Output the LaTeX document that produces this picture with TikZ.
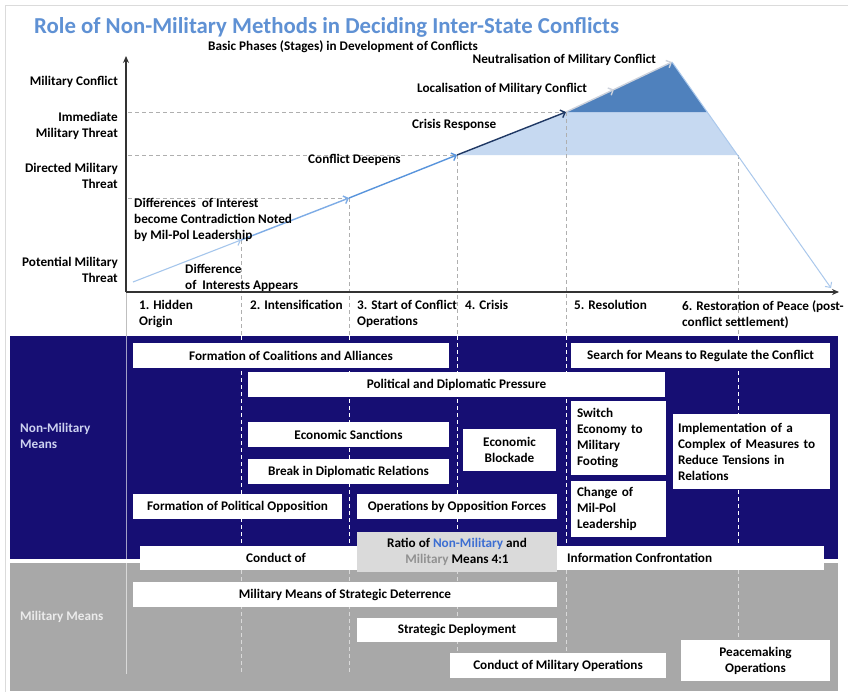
\documentclass[tikz,border=0pt]{standalone}
\usepackage{fontspec}
\setmainfont{Carlito}
\usetikzlibrary{arrows.meta}
\definecolor{navy}{RGB}{22,14,115}
\definecolor{greyreg}{RGB}{168,168,168}
\definecolor{titleblue}{RGB}{95,145,212}
\definecolor{tridark}{RGB}{79,129,189}
\definecolor{trilight}{RGB}{198,217,241}
\definecolor{seg1}{RGB}{165,198,236}
\definecolor{seg2}{RGB}{125,172,230}
\definecolor{seg3}{RGB}{88,148,220}
\definecolor{seg4}{RGB}{31,56,100}
\definecolor{segg}{RGB}{205,210,220}
\definecolor{desc}{RGB}{170,200,236}
\definecolor{dashg}{RGB}{175,175,175}
\definecolor{ratiobg}{RGB}{218,218,218}
\definecolor{nmblue}{RGB}{60,110,210}
\definecolor{milgrey}{RGB}{145,145,145}
\definecolor{nmlabel}{RGB}{205,210,240}
\newcommand\bxfont{\fontsize{13.2}{16}\selectfont\bfseries}
\begin{document}
\begin{tikzpicture}[x=1pt,y=-1pt,
  wbox/.style={fill=white, draw=none, inner sep=0pt, font=\bxfont, align=center},
  lab/.style={font=\bxfont, inner sep=0pt},
  llab/.style={font=\bxfont, inner sep=0pt, align=left, anchor=west},
  ylab/.style={font=\bxfont, inner sep=0pt, align=right, anchor=east},
  gdash/.style={draw=dashg, line width=0.9pt, dash pattern=on 4pt off 3pt},
  wdash/.style={draw=white, line width=1pt, dash pattern=on 4pt off 3pt},
  ldash/.style={draw=white!85!black, line width=1pt, dash pattern=on 4pt off 3pt},
  trend/.style={line width=1.4pt, -{Straight Barb[length=4pt,width=8pt]}}
]
\useasboundingbox (0,0) rectangle (848,691);
\fill[white] (0,0) rectangle (848,691);
\draw[white!86!black, line width=1pt] (5,5) rectangle (852,695);

% title
\node[anchor=base west, inner sep=0pt, text=titleblue, font=\fontsize{22.8}{26}\selectfont\bfseries] (title) at (34,33) {Role of Non-Military Methods in Deciding Inter-State Conflicts};
\node[anchor=base west, inner sep=0pt, font=\bxfont] (subtitle) at (208,50) {Basic Phases (Stages) in Development of Conflicts};

% regions
\fill[navy] (10,336) rectangle (838,559);
\fill[greyreg] (10,563) rectangle (838,691);

% shaded areas
\fill[trilight] (457,155) -- (566,112) -- (707,112) -- (737.4,155) -- cycle;
\fill[tridark] (566,112) -- (672,62) -- (707,112) -- cycle;

% horizontal dashed guides
\draw[gdash] (128,112) -- (566,112);
\draw[gdash] (128,155) -- (457,155);
\draw[gdash] (128,198) -- (349,198);

% vertical guides
\foreach \x/\y in {241/240, 349/198, 457/155, 566/112, 738/155} {
  \draw[gdash] (\x,\y) -- (\x,336);
  \draw[wdash] (\x,336) -- (\x,559);
  \draw[ldash] (\x,563) -- (\x,674);
}
\draw[white!75!black, line width=0.8pt] (126,292) -- (126,336);
\draw[white!60!navy, line width=0.8pt] (126,336) -- (126,559);
\draw[white!85!black, line width=0.8pt] (126,563) -- (126,674);

% axes
\coordinate (origin) at (126,292);
\coordinate (ytop) at (126,56);
\coordinate (xend) at (839,292);
\draw[line width=1.6pt, black!80, -{Stealth[length=7pt,width=6pt]}] (origin) -- (ytop);
\draw[line width=1.6pt, black!80, -{Stealth[length=7pt,width=6pt]}] (origin) -- (xend);

% trend line
\coordinate (p0) at (133,282);
\coordinate (p1) at (241,240);
\coordinate (p2) at (349,198);
\coordinate (p3) at (457,155);
\coordinate (p4) at (566,112);
\coordinate (p5) at (614,89.5);
\coordinate (p6) at (672,62);
\coordinate (p7) at (831,288);
\draw[trend, draw=seg1, line width=1.1pt] (p0) -- (p1);
\draw[trend, draw=seg2] (p1) -- (p2);
\draw[trend, draw=seg3] (p2) -- (p3);
\draw[trend, draw=seg4] (p3) -- (p4);
\draw[trend, draw=segg] (p4) -- (p5);
\draw[trend, draw=segg] (p5) -- (p6);
\draw[trend, draw=desc, line width=1pt] (p6) -- (p7);

% y-axis labels
\node[ylab] (ymc) at (118,82) {Military Conflict};
\node[ylab] (yimt) at (118,126) {Immediate\\Military Threat};
\node[ylab] (ydmt) at (118,176) {Directed Military\\Threat};
\node[ylab] (ypmt) at (118,270) {Potential Military\\Threat};

% chart labels
\node[lab, anchor=east] (neutr) at (656,60) {Neutralisation of Military Conflict};
\node[llab] (local) at (417,89) {Localisation of Military Conflict};
\node[llab] (crisisr) at (412,125) {Crisis Response};
\node[llab] (deepens) at (308,160) {Conflict Deepens};
\node[llab] (contra) at (134,220) {Differences\ \ of Interest\\become Contradiction Noted\\by Mil-Pol Leadership};
\node[llab] (appears) at (185,277.5) {Difference\\of\ \ Interests Appears};

% phase labels
\node[llab, anchor=north west] (ph1) at (139,300.5) {1. Hidden\\Origin};
\node[llab, anchor=north west] (ph2) at (250,300.5) {2. Intensification};
\node[llab, anchor=north west] (ph3) at (357,300.5) {3. Start of Conflict\\Operations};
\node[llab, anchor=north west] (ph4) at (465,300.5) {4. Crisis};
\node[llab, anchor=north west] (ph5) at (574,300.5) {5. Resolution};
\node[llab, anchor=north west] (ph6) at (682,300.5) {6. Restoration of Peace (post-\\conflict settlement)};

% region labels
\node[llab, text=nmlabel] (nmm) at (20,436) {Non-Military\\Means};
\node[llab, text=white!92!black] (mm) at (20,617) {Military Means};

% white boxes, non-military
\node[wbox, minimum width=316, minimum height=25] (coal) at (291,355.5) {Formation of Coalitions and Alliances};
\node[wbox, minimum width=417, minimum height=25] (pol) at (456.5,384.5) {Political and Diplomatic Pressure};
\node[wbox, minimum width=259, minimum height=25] (search) at (700.5,355.5) {Search for Means to Regulate the Conflict};
\node[wbox, minimum width=201, minimum height=25] (sanc) at (348.5,434.5) {Economic Sanctions};
\node[wbox, minimum width=201, minimum height=25] (brk) at (348.5,471.5) {Break in Diplomatic Relations};
\node[wbox, minimum width=93, minimum height=42] (block) at (509.5,450) {Economic\\Blockade};
\node[wbox, minimum width=95, minimum height=74, align=left, text width=83, inner xsep=6pt] (switch) at (618.5,438) {Switch\\Economy to\\Military\\Footing};
\node[wbox, minimum width=95, minimum height=56, align=left, text width=83, inner xsep=6pt] (change) at (618.5,509) {Change of\\Mil-Pol\\Leadership};
\node[wbox, minimum width=157, minimum height=75, align=left, text width=147, inner xsep=5pt] (impl) at (751.5,451.5) {Implementation of a\\Complex of Measures to\\Reduce Tensions in\\Relations};
\node[wbox, minimum width=209, minimum height=25] (oppos) at (237.5,506.5) {Formation of Political Opposition};
\node[wbox, minimum width=200, minimum height=25] (opforces) at (457,506.5) {Operations by Opposition Forces};

% information confrontation strip
\node[wbox, minimum width=684, minimum height=24] (info) at (482,558) {};
\node[lab] (conductof) at (276,558) {Conduct of};
\node[lab, anchor=west] (infoconf) at (567,558) {Information Confrontation};
\node[wbox, fill=ratiobg, minimum width=200, minimum height=40] (ratio) at (457,552) {Ratio of \textcolor{nmblue}{Non-Military} and\\\textcolor{milgrey}{Military} Means 4:1};

% military boxes
\node[wbox, minimum width=424, minimum height=25] (deter) at (345,594.5) {Military Means of Strategic Deterrence};
\node[wbox, minimum width=200, minimum height=24] (deploy) at (457,630) {Strategic Deployment};
\node[wbox, minimum width=216, minimum height=25] (cmo) at (558,665.5) {Conduct of Military Operations};
\node[wbox, minimum width=149, minimum height=41] (peace) at (755.5,660.5) {Peacemaking\\Operations};
\end{tikzpicture}
\end{document}
